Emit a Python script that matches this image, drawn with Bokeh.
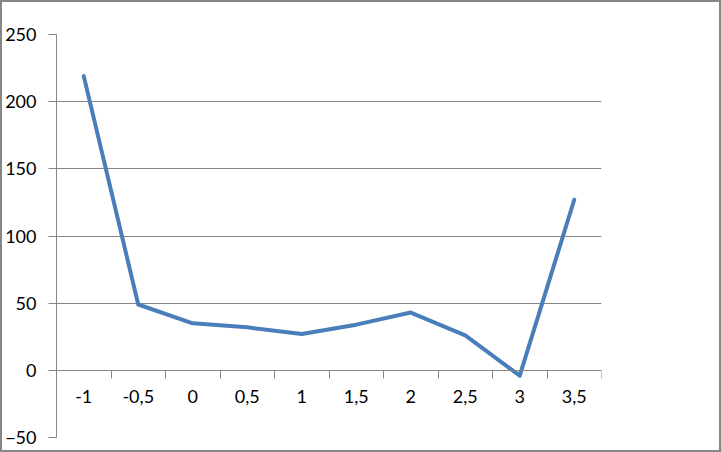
from bokeh.plotting import figure
from bokeh.models import Range1d, FixedTicker, LinearAxis
from bokeh.embed import file_html
from bokeh.resources import INLINE

categories = ["-1", "-0,5", "0", "0,5", "1", "1,5", "2", "2,5", "3", "3,5"]
values = [219, 49, 35, 32, 27, 34, 43, 26, -4, 127]
y_ticks = [-50, 0, 50, 100, 150, 200, 250]

GRAY = "#868686"
FONT = "Lato"

idx = list(range(len(categories)))

p = figure(width=721, height=452, output_backend="svg", toolbar_location=None,
           x_range=Range1d(-0.5, len(categories) - 0.5),
           y_range=Range1d(min(y_ticks), max(y_ticks)),
           min_border_left=56, min_border_right=120, min_border_top=34, min_border_bottom=15)
p.styles = {"box-shadow": f"inset 0 0 0 2px {GRAY}", "background-color": "white"}
p.outline_line_color = None
p.background_fill_color = "white"
p.border_fill_color = None

p.line(idx, values, line_color="#4A7EBB", line_width=4, line_join="round", line_cap="round")

# y axis
p.yaxis.ticker = FixedTicker(ticks=y_ticks)
p.yaxis.axis_line_color = GRAY
p.yaxis.major_tick_line_color = GRAY
p.yaxis.major_tick_out = 8
p.yaxis.major_tick_in = 0
p.yaxis.minor_tick_line_color = None
p.yaxis.major_label_standoff = 12
p.yaxis.major_label_text_font = FONT
p.yaxis.major_label_text_font_size = "18px"
p.yaxis.major_label_text_color = "black"

# grid
p.xgrid.visible = False
p.ygrid.ticker = FixedTicker(ticks=y_ticks)
p.ygrid.grid_line_color = GRAY
p.ygrid.grid_line_width = 1

# x axis (ticks at category boundaries, crossing at 0)
xa = p.xaxis[0]
xa.fixed_location = 0
xa.ticker = FixedTicker(ticks=[i - 0.5 for i in range(len(categories) + 1)])
xa.axis_line_color = GRAY
xa.major_tick_line_color = GRAY
xa.major_tick_out = 8
xa.major_tick_in = 0
xa.minor_tick_line_color = None
xa.major_label_text_font_size = "0px"
xa.major_label_text_alpha = 0

# category labels
la = LinearAxis(fixed_location=0, ticker=FixedTicker(ticks=idx),
                major_label_overrides={i: c for i, c in zip(idx, categories)})
la.axis_line_color = None
la.major_tick_line_color = None
la.minor_tick_line_color = None
la.major_tick_out = 0
la.major_label_standoff = 20
la.major_label_text_font = FONT
la.major_label_text_font_size = "18px"
la.major_label_text_color = "black"
p.add_layout(la, "below")

open("out.html", "w").write(file_html(p, INLINE))
